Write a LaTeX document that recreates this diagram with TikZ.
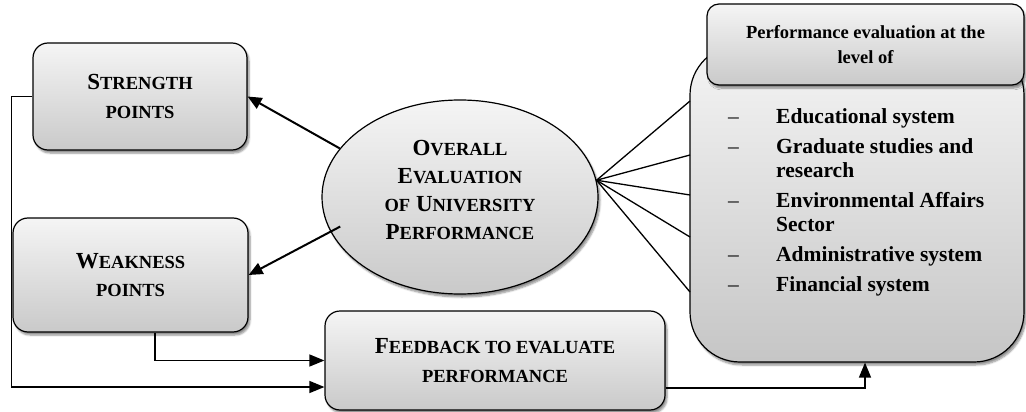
\documentclass[tikz,border=0pt]{standalone}
\usepackage{fontspec}
\setmainfont{Liberation Serif}
\usetikzlibrary{shadows.blur,arrows.meta,calc,shapes.geometric}
\newcommand\smc[1]{{\fontsize{18.5}{20}\selectfont #1}}
\newcommand\ldash{{\mdseries –}}
\begin{document}
\begin{tikzpicture}[x=1pt,y=-1pt,
 shade/.style={top color=gray!8, bottom color=gray!42},
 shad/.style={blur shadow={shadow xshift=2pt, shadow yshift=-3pt, shadow blur steps=6, shadow opacity=45}},
 boxst/.style={draw, line width=1.2pt, rounded corners=15pt, shade, shad, align=center, font=\fontsize{23}{28.5}\selectfont\bfseries},
 arr/.style={-{Triangle[length=15pt,width=12pt]}, line width=1.4pt},
 thickarr/.style={-{Triangle[length=14pt,width=12pt]}, line width=2pt},
 fan/.style={line width=1.3pt}]
\useasboundingbox (0,0) rectangle (1026,412);

% big right box
\node[draw, line width=1.2pt, rounded corners=50pt, top color=gray!8, bottom color=gray!45, shad, minimum width=334pt, minimum height=317pt, inner sep=0] (big) at (857,203.5) {};
\node[boxst, rounded corners=12pt, font=\fontsize{18.5}{25}\selectfont\bfseries, minimum width=317pt, minimum height=81pt] (hdr) at (865.5,44.5) {Performance evaluation at the\\level of};
\node[anchor=north west, inner sep=0, font=\fontsize{21.5}{24}\selectfont\bfseries] (lst) at (728,106) {%
\begin{tabular}{@{}p{48pt}@{}l@{}}
\ldash&Educational system\\[6pt]
\ldash&Graduate studies and\\
&research\\[6pt]
\ldash&Environmental Affairs\\
&Sector\\[6pt]
\ldash&Administrative system\\[6pt]
\ldash&Financial system
\end{tabular}};

% left boxes
\node[boxst, minimum width=214pt, minimum height=107pt] (str) at (140,96.5) {S\smc{TRENGTH}\\\smc{POINTS}};
\node[boxst, minimum width=235pt, minimum height=114pt] (wk) at (130.5,275) {W\smc{EAKNESS}\\\smc{POINTS}};
\node[boxst, minimum width=340pt, minimum height=99pt] (fb) at (495,360.5) {F\smc{EEDBACK TO EVALUATE}\\\smc{PERFORMANCE}};

% ellipse
\node[ellipse, draw, line width=1.2pt, shade, shad, minimum width=276pt, minimum height=194pt, inner sep=0] (ell) at (460,197) {};
\node[align=center, font=\fontsize{23}{27.7}\selectfont\bfseries] (ellt) at (460,190) {O\smc{VERALL}\\E\smc{VALUATION}\\\smc{OF} U\smc{NIVERSITY}\\P\smc{ERFORMANCE}};

% fan
\coordinate (f1) at (690,101);
\coordinate (f2) at (690,155);
\coordinate (f3) at (690,195);
\coordinate (f4) at (690,237);
\coordinate (f5) at (690,292);
\foreach \f in {f1,f2,f3,f4,f5} \draw[fan] (ell.7) -- (\f);

% arrows
\draw[thickarr] (ell.158) -- (str.east);
\draw[thickarr, shorten <=-11pt] (ell.195) -- (wk.east);
\draw[arr] (str.west) -- ++(-21,0) |- ($(fb.west)+(0,26.5)$);
\draw[arr] ($(wk.south)+(24.5,0)$) |- (fb.west);
\draw[arr] ($(fb.east)+(0,27.5)$) -| ($(big.south)+(8,0)$);
\end{tikzpicture}
\end{document}
